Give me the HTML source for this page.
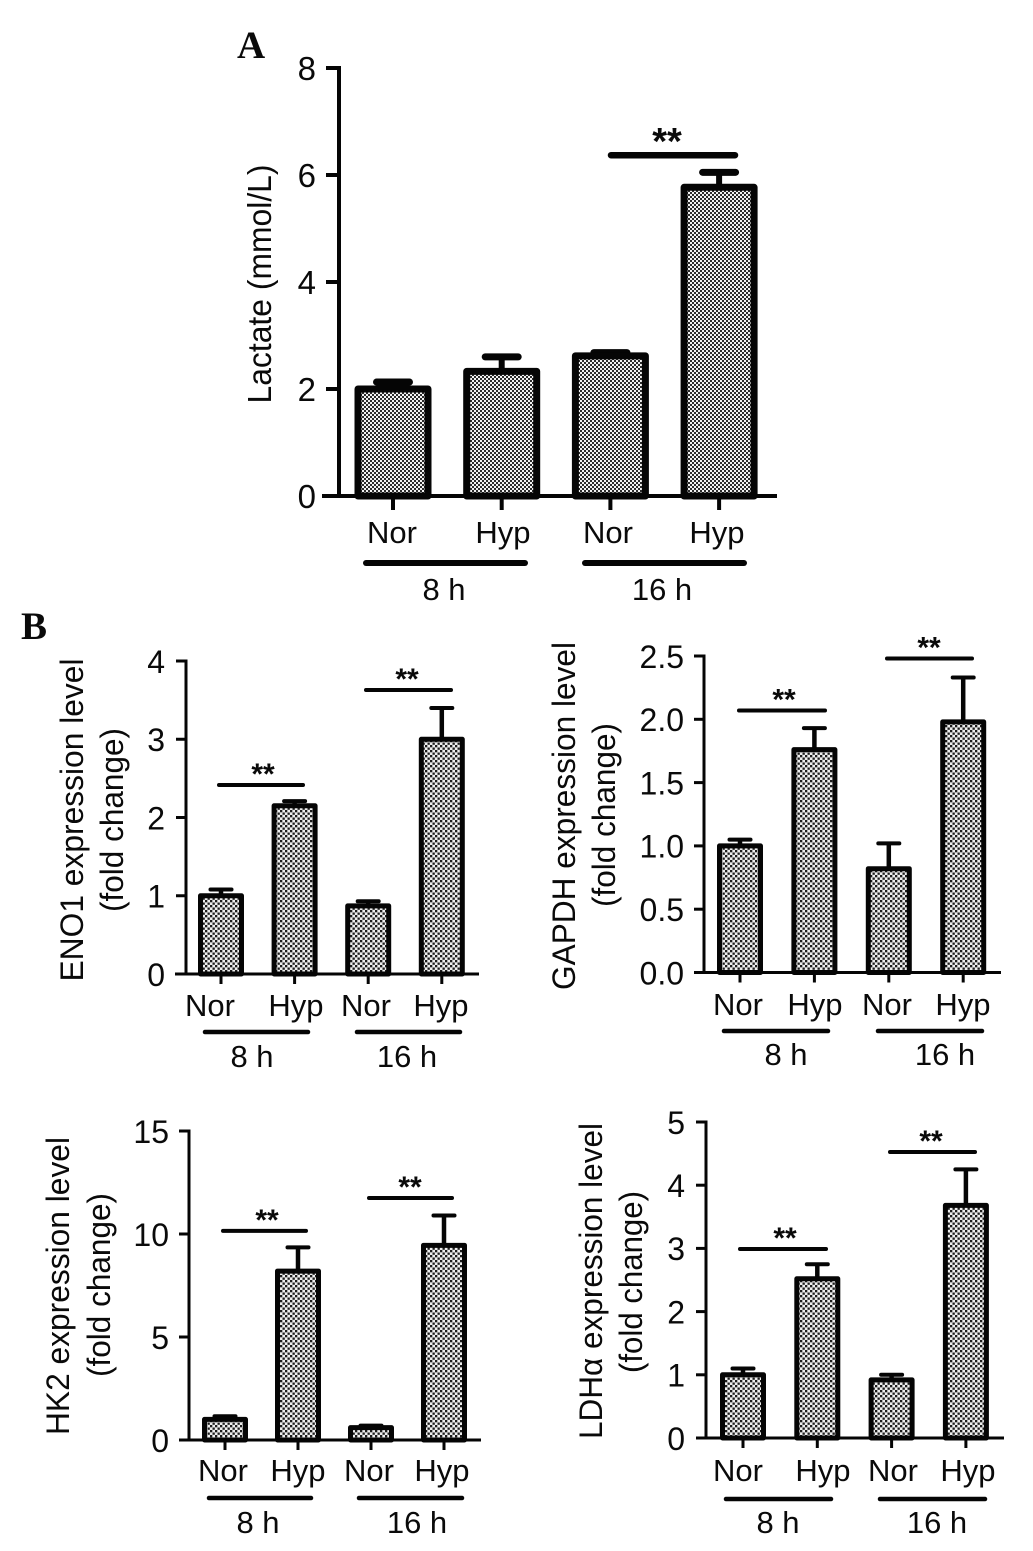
<!DOCTYPE html>
<html lang="en">
<head>
<meta charset="utf-8">
<title>Lactate and glycolytic gene expression under normoxia and hypoxia</title>
<style>
  html, body { margin: 0; padding: 0; background: #fff; }
  #figure { display: block; width: 1033px; height: 1551px; }
  text { font-family: "Liberation Sans", Arial, sans-serif; fill: #0a0a0a; }
  .panel-letter { font-family: "Liberation Serif", serif; font-weight: bold; font-size: 39px; }
  .stars { font-weight: bold; text-anchor: middle; }
</style>
</head>
<body>
<svg id="figure" xmlns="http://www.w3.org/2000/svg" width="1033" height="1551" viewBox="0 0 1033 1551">
  <defs>
    <pattern id="dither-large" patternUnits="userSpaceOnUse" width="4" height="4">
      <rect width="4" height="4" fill="#2c2c2c"/>
      <rect x="0" y="0" width="2" height="2" fill="#f2f2f2"/>
      <rect x="2" y="2" width="2" height="2" fill="#f2f2f2"/>
    </pattern>
    <pattern id="dither-small" patternUnits="userSpaceOnUse" width="5" height="5">
      <rect width="5" height="5" fill="#eeeeee"/>
      <rect x="0" y="0" width="2.3" height="2.3" fill="#1c1c1c"/>
      <rect x="2.5" y="2.5" width="2.3" height="2.3" fill="#1c1c1c"/>
    </pattern>
  </defs>
  <rect width="1033" height="1551" fill="#ffffff"/>
  <text class="panel-letter" x="237" y="58">A</text>
  <text class="panel-letter" x="21" y="639">B</text>
</svg>
<script>
// ---- Chart data ----
const categories = ['Nor', 'Hyp', 'Nor', 'Hyp'];
const groups = ['8 h', '16 h'];

const lactateTicks = ['0', '2', '4', '6', '8'];
const lactateValues = [2.0, 2.33, 2.62, 5.77];
const lactateErrors = [0.13, 0.27, 0.06, 0.28];
const lactateSigLevels = [6.37];

const enoTicks = ['0', '1', '2', '3', '4'];
const enoValues = [1.0, 2.15, 0.87, 3.0];
const enoErrors = [0.08, 0.06, 0.06, 0.40];
const enoSigLevels = [2.415, 3.63];

const gapdhTicks = ['0.0', '0.5', '1.0', '1.5', '2.0', '2.5'];
const gapdhValues = [1.0, 1.76, 0.82, 1.98];
const gapdhErrors = [0.05, 0.17, 0.20, 0.35];
const gapdhSigLevels = [2.07, 2.48];

const hk2Ticks = ['0', '5', '10', '15'];
const hk2Values = [1.0, 8.2, 0.6, 9.45];
const hk2Errors = [0.15, 1.15, 0.10, 1.45];
const hk2SigLevels = [10.15, 11.75];

const ldhTicks = ['0', '1', '2', '3', '4', '5'];
const ldhValues = [1.0, 2.52, 0.92, 3.68];
const ldhErrors = [0.10, 0.23, 0.08, 0.57];
const ldhSigLevels = [2.99, 4.525];

// ---- Panel layout (geometry only) ----
const panels = [
  { id: 'lactate', ticks: lactateTicks, values: lactateValues, errors: lactateErrors, sig: lactateSigLevels,
    axisX: 339, top: 68, bottom: 496, xStart: 322, xEnd: 777, first: 393, step: 108.7,
    barWidth: 70, barStroke: 7, axisStroke: 4, capWidth: 33, capStroke: 7, stemStroke: 6, tickLen: 13, xTickLen: 14,
    tickRight: 316, tickSize: 33, pattern: 'dither-large',
    catX: [392, 503, 608, 717], catY: 543, catSize: 31,
    sigSpans: [[611, 735]], sigStroke: 6.5, starX: [667], starSize: 38,
    groupSpans: [[366, 525], [585, 744]], groupY: 563, groupStroke: 6, groupX: [444, 662], groupTextY: 600,
    titles: [{ text: 'Lactate (mmol/L)', x: 271, y: 284, len: 239 }], titleSize: 33 },
  { id: 'eno1', ticks: enoTicks, values: enoValues, errors: enoErrors, sig: enoSigLevels,
    axisX: 186, top: 661, bottom: 974, xStart: 175, xEnd: 479, first: 221, step: 73.6,
    barWidth: 41, barStroke: 5, axisStroke: 3, capWidth: 21, capStroke: 4, stemStroke: 4.5, tickLen: 10, xTickLen: 10,
    tickRight: 165, tickSize: 32, pattern: 'dither-small',
    catX: [210, 296, 366, 441], catY: 1016, catSize: 31,
    sigSpans: [[219, 303], [366, 451]], sigStroke: 4, starX: [263, 407], starSize: 30,
    groupSpans: [[205, 308], [357, 460]], groupY: 1032, groupStroke: 4.5, groupX: [252, 407], groupTextY: 1067,
    titles: [{ text: 'ENO1 expression level', x: 83, y: 820, len: 323 }, { text: '(fold change)', x: 123, y: 820, len: 184 }], titleSize: 32 },
  { id: 'gapdh', ticks: gapdhTicks, values: gapdhValues, errors: gapdhErrors, sig: gapdhSigLevels,
    axisX: 704, top: 656, bottom: 972.5, xStart: 694, xEnd: 1001, first: 740, step: 74.4,
    barWidth: 41, barStroke: 5, axisStroke: 3, capWidth: 21, capStroke: 4, stemStroke: 4.5, tickLen: 10, xTickLen: 10,
    tickRight: 684, tickSize: 32, pattern: 'dither-small',
    catX: [738, 815, 887, 963], catY: 1015, catSize: 31,
    sigSpans: [[739, 825], [887, 972]], sigStroke: 4, starX: [784, 929], starSize: 30,
    groupSpans: [[724, 828], [878, 982]], groupY: 1031, groupStroke: 4.5, groupX: [786, 945], groupTextY: 1065,
    titles: [{ text: 'GAPDH expression level', x: 575, y: 816, len: 348 }, { text: '(fold change)', x: 615, y: 815, len: 184 }], titleSize: 32 },
  { id: 'hk2', ticks: hk2Ticks, values: hk2Values, errors: hk2Errors, sig: hk2SigLevels,
    axisX: 189, top: 1131, bottom: 1440, xStart: 180, xEnd: 481, first: 225, step: 73,
    barWidth: 41, barStroke: 5, axisStroke: 3, capWidth: 21, capStroke: 4, stemStroke: 4.5, tickLen: 10, xTickLen: 10,
    tickRight: 169, tickSize: 32, pattern: 'dither-small',
    catX: [223, 298, 369, 442], catY: 1481, catSize: 31,
    sigSpans: [[223, 306], [369, 452]], sigStroke: 4, starX: [267, 410], starSize: 30,
    groupSpans: [[209, 311], [359, 462]], groupY: 1498, groupStroke: 4.5, groupX: [258, 417], groupTextY: 1533,
    titles: [{ text: 'HK2 expression level', x: 69, y: 1286, len: 298 }, { text: '(fold change)', x: 110, y: 1285, len: 184 }], titleSize: 32 },
  { id: 'ldha', ticks: ldhTicks, values: ldhValues, errors: ldhErrors, sig: ldhSigLevels,
    axisX: 706, top: 1122, bottom: 1438, xStart: 696, xEnd: 1004, first: 743, step: 74.3,
    barWidth: 41, barStroke: 5, axisStroke: 3, capWidth: 21, capStroke: 4, stemStroke: 4.5, tickLen: 10, xTickLen: 10,
    tickRight: 685, tickSize: 32, pattern: 'dither-small',
    catX: [738, 823, 893, 968], catY: 1481, catSize: 31,
    sigSpans: [[740, 826], [890, 975]], sigStroke: 4, starX: [785, 931], starSize: 30,
    groupSpans: [[726, 831], [880, 985]], groupY: 1499, groupStroke: 4.5, groupX: [778, 937], groupTextY: 1533,
    titles: [{ text: 'LDH\u03b1 expression level', x: 602, y: 1281, len: 316 }, { text: '(fold change)', x: 642, y: 1282, len: 182 }], titleSize: 32 }
];

// ---- Drawing ----
const SVG_NS = 'http://www.w3.org/2000/svg';
const figure = document.getElementById('figure');

function make(parent, tag, attrs, content) {
  const node = document.createElementNS(SVG_NS, tag);
  for (const key in attrs) node.setAttribute(key, attrs[key]);
  if (content !== undefined) node.textContent = content;
  parent.appendChild(node);
  return node;
}

function drawLine(parent, x1, y1, x2, y2, width, cap) {
  return make(parent, 'line', { x1: x1, y1: y1, x2: x2, y2: y2, stroke: '#050505', 'stroke-width': width, 'stroke-linecap': cap || 'butt' });
}

function drawPanel(p) {
  const group = make(figure, 'g', { id: 'panel-' + p.id });
  
  

  const maxTick = Math.max.apply(null, p.ticks.map(Number));
  const yScale = function (v) { return p.bottom - (v / maxTick) * (p.bottom - p.top); };
  const xBand = function (i) { return p.first + i * p.step; };

  // error bars, behind the bars
  p.values.forEach(function (value, i) {
    const topY = yScale(value + p.errors[i]);
    const stem = drawLine(group, xBand(i), yScale(value), xBand(i), topY, p.stemStroke);
    
    
    const cap = drawLine(group, xBand(i) - p.capWidth / 2, topY, xBand(i) + p.capWidth / 2, topY, p.capStroke, 'round');
    
    
  });

  // bars
  p.values.forEach(function (value, i) {
    const bar = make(group, 'rect', {
      x: xBand(i) - p.barWidth / 2, y: yScale(value), width: p.barWidth, height: p.bottom - yScale(value),
      fill: 'url(#' + p.pattern + ')', stroke: '#050505', 'stroke-width': p.barStroke, 'stroke-linejoin': 'round'
    });
    
    
  });

  // axes
  const yAxis = drawLine(group, p.axisX, p.top - p.axisStroke / 2, p.axisX, p.bottom, p.axisStroke);
  
  
  const xAxis = drawLine(group, p.xStart, p.bottom, p.xEnd, p.bottom, p.axisStroke);
  
  

  // y ticks and labels
  p.ticks.forEach(function (label) {
    const y = yScale(Number(label));
    const tick = drawLine(group, p.axisX - p.tickLen, y, p.axisX, y, p.axisStroke);
    
    
    const tickText = make(group, 'text', { x: p.tickRight, y: y + p.tickSize * 0.37, 'text-anchor': 'end', 'font-size': p.tickSize }, label);
    
    
  });

  // x ticks and category labels
  categories.forEach(function (name, i) {
    const tick = drawLine(group, xBand(i), p.bottom, xBand(i), p.bottom + p.xTickLen, p.axisStroke);
    
    
    const catText = make(group, 'text', { x: p.catX[i], y: p.catY, 'text-anchor': 'middle', 'font-size': p.catSize }, name);
    
    
  });

  // time group underlines and labels
  groups.forEach(function (name, i) {
    const span = p.groupSpans[i];
    const rule = drawLine(group, span[0], p.groupY, span[1], p.groupY, p.groupStroke, 'round');
    
    
    const groupText = make(group, 'text', { x: p.groupX[i], y: p.groupTextY, 'text-anchor': 'middle', 'font-size': p.catSize }, name);
    
    
  });

  // significance markers
  p.sig.forEach(function (level, i) {
    const y = yScale(level);
    const span = p.sigSpans[i];
    const rule = drawLine(group, span[0], y, span[1], y, p.sigStroke, 'round');
    
    
    const stars = make(group, 'text', { class: 'stars', x: p.starX[i], y: y - 1, 'font-size': p.starSize }, '**');
    
    
  });

  // y-axis titles
  p.titles.forEach(function (title) {
    const titleText = make(group, 'text', {
      x: 0, y: 0, 'text-anchor': 'middle', 'font-size': p.titleSize,
      textLength: title.len, lengthAdjust: 'spacingAndGlyphs',
      transform: 'translate(' + title.x + ' ' + title.y + ') rotate(-90)'
    }, title.text);
    
    
  });
}

panels.forEach(drawPanel);
</script>
</body>
</html>
